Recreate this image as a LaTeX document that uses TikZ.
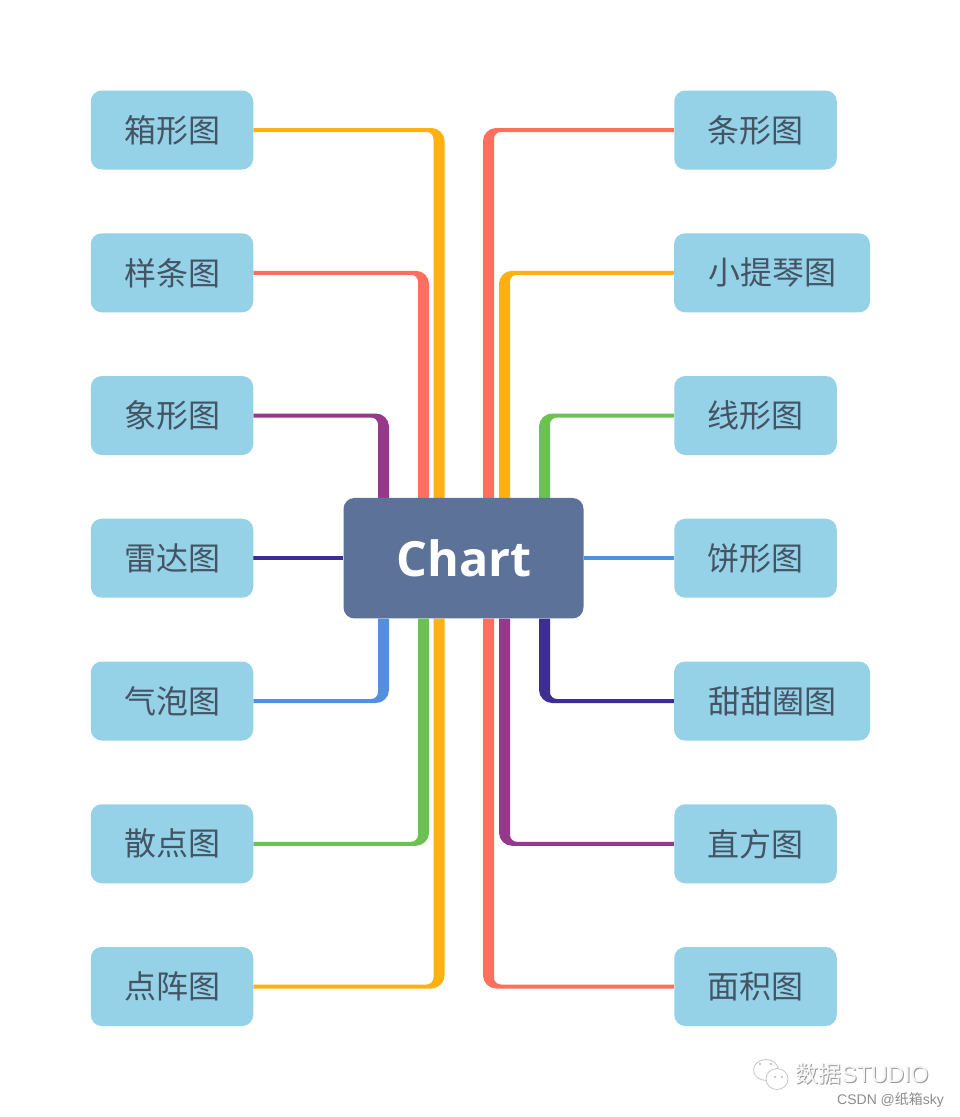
\documentclass[tikz,border=0pt]{standalone}
\usepackage{fontspec}
\setmainfont{Open Sans}
\newfontfamily\cjk{Noto Sans CJK SC}
\newfontfamily\lib{Liberation Sans}
\usetikzlibrary{backgrounds,calc}
\definecolor{boxc}{HTML}{96D2E7}
\definecolor{chartc}{HTML}{5D7299}
\definecolor{labelc}{HTML}{435464}
\definecolor{cYel}{HTML}{FFB110}
\definecolor{cCor}{HTML}{FF6F5E}
\definecolor{cPur}{HTML}{96398A}
\definecolor{cGre}{HTML}{6BC253}
\definecolor{cBlu}{HTML}{5390DC}
\definecolor{cNav}{HTML}{3F2E92}
\newcommand\lifted[1]{\raisebox{1.3pt}{#1}}
\tikzset{
  x=1pt,y=-1pt,
  leaf/.style={fill=boxc,rounded corners=11pt,inner sep=0pt,minimum height=79pt,
    text=labelc,font={\cjk\fontsize{32}{32}\selectfont}},
  leaf3/.style={leaf,minimum width=162.5pt},
  leaf4/.style={leaf,minimum width=196pt},
  root/.style={fill=chartc,rounded corners=11pt,inner sep=0pt,minimum width=240pt,minimum height=120.5pt,
    text=white,font={\fontsize{48.5}{49}\selectfont\bfseries}},
  wm/.style={inner sep=0pt,anchor=west}
}
% #1 leaf anchor, #2 root anchor, #3 x of trunk, #4 colour, #5 side sign, #6 vertical sign (real axis)
\newcommand\branchto[6]{%
  \fill[#4] let \p1=(#1), \p2=(#2) in
    (\x1,{\y1-(#6)*2pt})
    -- ({#3pt+(#5)*5.5pt-(#5)*13pt},{\y1-(#6)*2pt})
    .. controls ({#3pt+(#5)*5.5pt-(#5)*6pt},{\y1-(#6)*2pt}) and ({#3pt+(#5)*5.5pt},{\y1-(#6)*2pt+(#6)*6pt})
    .. ({#3pt+(#5)*5.5pt},{\y1-(#6)*2pt+(#6)*13pt})
    -- ({#3pt+(#5)*5.5pt},\y2)
    -- ({#3pt-(#5)*5.5pt},\y2)
    -- ({#3pt-(#5)*5.5pt},{\y1+(#6)*2pt+(#6)*7pt})
    .. controls ({#3pt-(#5)*5.5pt},{\y1+(#6)*2pt+(#6)*3pt}) and ({#3pt-(#5)*5.5pt-(#5)*3pt},{\y1+(#6)*2pt})
    .. ({#3pt-(#5)*5.5pt-(#5)*7pt},{\y1+(#6)*2pt})
    -- (\x1,{\y1+(#6)*2pt}) -- cycle;%
}
\begin{document}
\begin{tikzpicture}
\useasboundingbox (0,0) rectangle (960,1117);
\node[root] (chart) at (463.5,558.2) {\hspace{1.5pt}Chart};
\node[leaf3] (l1) at (172,130) {\lifted{箱形图}};
\node[leaf3] (l2) at (172,272.8) {\lifted{样条图}};
\node[leaf3] (l3) at (172,415.5) {\lifted{象形图}};
\node[leaf3] (l4) at (172,558.2) {\lifted{雷达图}};
\node[leaf3] (l5) at (172,701) {\lifted{气泡图}};
\node[leaf3] (l6) at (172,843.8) {\lifted{散点图}};
\node[leaf3] (l7) at (172,986.5) {\lifted{点阵图}};
\node[leaf3] (r1) at (755.5,130) {\lifted{条形图}};
\node[leaf4] (r2) at (772,272.8) {\lifted{小提琴图}};
\node[leaf3] (r3) at (755.5,415.5) {\lifted{线形图}};
\node[leaf3] (r4) at (755.5,558.2) {\lifted{饼形图}};
\node[leaf4] (r5) at (772,701) {\lifted{甜甜圈图}};
\node[leaf3] (r6) at (755.5,843.8) {\lifted{直方图}};
\node[leaf3] (r7) at (755.5,986.5) {\lifted{面积图}};
\begin{scope}[on background layer]
\fill[white] (0,0) rectangle (960,1117);
\branchto{l1.east}{chart.north}{439}{cYel}{1}{-1}
\branchto{l2.east}{chart.north}{423.5}{cCor}{1}{-1}
\branchto{l3.east}{chart.north}{383.5}{cPur}{1}{-1}
\branchto{l5.east}{chart.south}{383.5}{cBlu}{1}{1}
\branchto{l6.east}{chart.south}{423.5}{cGre}{1}{1}
\branchto{l7.east}{chart.south}{439}{cYel}{1}{1}
\branchto{r1.west}{chart.north}{488.5}{cCor}{-1}{-1}
\branchto{r2.west}{chart.north}{504.5}{cYel}{-1}{-1}
\branchto{r3.west}{chart.north}{544.5}{cGre}{-1}{-1}
\branchto{r5.west}{chart.south}{544.5}{cNav}{-1}{1}
\branchto{r6.west}{chart.south}{504.5}{cPur}{-1}{1}
\branchto{r7.west}{chart.south}{488.5}{cCor}{-1}{1}
\draw[cNav,line width=3.5pt] (l4.east) -- (chart.west);
\draw[cBlu,line width=3.5pt] (r4.west) -- (chart.east);
\end{scope}
% watermark
\begin{scope}[line width=.8pt]
\draw[gray!45] (766,1070) ellipse [x radius=12.5,y radius=10.5];
\draw[gray!45,fill=white] (777,1079) ellipse [x radius=11,y radius=10.5];
\fill[gray!55] (760,1064) circle (1.2) (771,1064) circle (1.2) (775,1077) circle (1.2) (782,1077) circle (1.2);
\end{scope}
\node[wm,text=gray!80] (wmA) at (796.5,1075) {\fontsize{23}{23}\cjk 数据\lib STUDIO};
\node[wm,text=gray!8] (wmB) at (795.5,1074) {\fontsize{23}{23}\cjk 数据\lib STUDIO};
\node[wm,text=gray!90] (wmC) at (837,1100) {\fontsize{14}{14}\lib CSDN @\cjk 纸箱\lib sky};
\end{tikzpicture}
\end{document}
